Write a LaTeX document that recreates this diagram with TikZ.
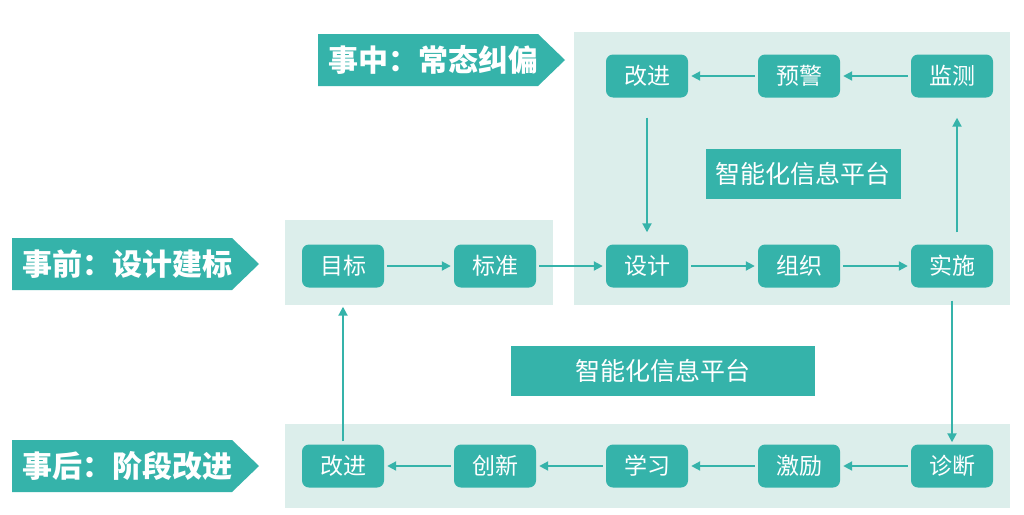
\documentclass[tikz,border=0pt]{standalone}
\usepackage{fontspec}
\newfontfamily\cjk{Noto Sans CJK SC}
\usetikzlibrary{arrows.meta}
\definecolor{tealA}{HTML}{35B3AA}
\definecolor{panelA}{HTML}{DCEEEB}
\tikzset{
  box/.style={fill=tealA, rounded corners=7pt, minimum width=82pt, minimum height=43pt,
    text=white, font=\cjk\fontsize{23}{23}\selectfont, inner sep=0pt},
  plat/.style={fill=tealA, text=white, font=\cjk\fontsize{25}{25}\selectfont,
    minimum height=50pt, inner sep=0pt},
  headtxt/.style={text=white, font=\cjk\bfseries\fontsize{30}{30}\selectfont, inner sep=0pt, anchor=west},
  arr/.style={draw=tealA, line width=2pt, -{Triangle[length=9pt,width=9pt]}},
  hfill/.style={fill=tealA},
  pfill/.style={fill=panelA}
}
\begin{document}
\begin{tikzpicture}[x=1pt,y=-1pt]
\useasboundingbox (0,0) rectangle (1024,514);
\fill[white] (0,0) rectangle (1024,514);
% panels
\fill[pfill] (574,32) rectangle (1010,305);
\fill[pfill] (285,220) rectangle (553,305);
\fill[pfill] (285,424) rectangle (1010,508);
% headings
\fill[hfill] (318,34) -- (538,34) -- (565,60) -- (538,86) -- (318,86) -- cycle;
\node[headtxt] (h1) at (328,60) {事中：常态纠偏};
\fill[hfill] (12,238) -- (232,238) -- (259,264) -- (232,290) -- (12,290) -- cycle;
\node[headtxt] (h2) at (22,264) {事前：设计建标};
\fill[hfill] (12,440) -- (232,440) -- (259,466) -- (232,492) -- (12,492) -- cycle;
\node[headtxt] (h3) at (22,466) {事后：阶段改进};
% platforms
\node[plat, minimum width=195pt] (p1) at (803,174) {智能化信息平台};
\node[plat, minimum width=304pt] (p2) at (663,371) {智能化信息平台};
% top row
\node[box] (gj1) at (647,76) {改进};
\node[box] (yj) at (799,76) {预警};
\node[box] (jc) at (952,76) {监测};
% middle row
\node[box] (mb) at (343,266) {目标};
\node[box] (bz) at (495,266) {标准};
\node[box] (sj) at (647,266) {设计};
\node[box] (zz) at (799,266) {组织};
\node[box] (ss) at (952,266) {实施};
% bottom row
\node[box] (gj2) at (343,466) {改进};
\node[box] (cx) at (495,466) {创新};
\node[box] (xx) at (647,466) {学习};
\node[box] (jl) at (799,466) {激励};
\node[box] (zd) at (952,466) {诊断};
% arrows
\draw[arr, shorten <=3pt, shorten >=3pt] (jc) -- (yj);
\draw[arr, shorten <=3pt, shorten >=3pt] (yj) -- (gj1);
\draw[arr, shorten <=20pt, shorten >=12pt] (gj1) -- (sj);
\draw[arr, shorten <=3pt, shorten >=3pt] (mb) -- (bz);
\draw[arr, shorten <=3pt, shorten >=3pt] (bz) -- (sj);
\draw[arr, shorten <=3pt, shorten >=3pt] (sj) -- (zz);
\draw[arr, shorten <=3pt, shorten >=3pt] (zz) -- (ss);
\draw[arr, shorten <=12pt, shorten >=20pt] ([xshift=5pt]ss.north) -- ([xshift=5pt]jc.south);
\draw[arr, shorten <=13pt, shorten >=2pt] (ss) -- (zd);
\draw[arr, shorten <=3pt, shorten >=3pt] (zd) -- (jl);
\draw[arr, shorten <=3pt, shorten >=3pt] (jl) -- (xx);
\draw[arr, shorten <=3pt, shorten >=3pt] (xx) -- (cx);
\draw[arr, shorten <=3pt, shorten >=3pt] (cx) -- (gj2);
\draw[arr, shorten <=3pt, shorten >=19pt] (gj2) -- (mb);
\end{tikzpicture}
\end{document}
